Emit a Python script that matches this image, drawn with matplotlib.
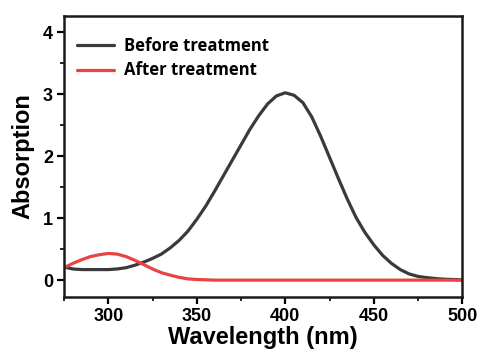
import matplotlib
matplotlib.use("Agg")
import matplotlib.pyplot as plt
from matplotlib.ticker import MultipleLocator

wavelength = list(range(275, 505, 5))
before = [0.21, 0.18, 0.17, 0.17, 0.17, 0.17, 0.18, 0.20, 0.24, 0.29,
          0.35, 0.42, 0.52, 0.64, 0.79, 0.98, 1.19, 1.43, 1.68, 1.93,
          2.18, 2.43, 2.65, 2.84, 2.97, 3.02, 2.98, 2.86, 2.63, 2.32,
          1.98, 1.64, 1.31, 1.01, 0.77, 0.57, 0.40, 0.27, 0.17, 0.10,
          0.06, 0.04, 0.025, 0.015, 0.01, 0.005]
after = [0.20, 0.27, 0.33, 0.38, 0.41, 0.43, 0.42, 0.38, 0.32, 0.25,
         0.18, 0.12, 0.08, 0.045, 0.02, 0.01, 0.005, 0.0, 0.0, 0.0,
         0.0, 0.0, 0.0, 0.0, 0.0, 0.0, 0.0, 0.0, 0.0, 0.0,
         0.0, 0.0, 0.0, 0.0, 0.0, 0.0, 0.0, 0.0, 0.0, 0.0,
         0.0, 0.0, 0.0, 0.0, 0.0, 0.0]
labels = ["Before treatment", "After treatment"]

plt.rcParams['font.family'] = ['Liberation Sans', 'DejaVu Sans']
fig = plt.figure(figsize=(4.78, 3.53), dpi=100)
ax = fig.add_axes([0.134, 0.159, 0.833, 0.796])

ax.plot(wavelength, before, color="#3a3a3a", lw=2.3, label=labels[0],
        solid_joinstyle="round", solid_capstyle="round")
ax.plot(wavelength, after, color="#e84444", lw=2.3, label=labels[1],
        solid_joinstyle="round", solid_capstyle="round")

ax.set_xlim(275, 500)
ax.set_ylim(-0.27, 4.26)
ax.xaxis.set_major_locator(MultipleLocator(50))
ax.xaxis.set_minor_locator(MultipleLocator(25))
ax.yaxis.set_major_locator(MultipleLocator(1))
ax.yaxis.set_minor_locator(MultipleLocator(0.5))
for s in ax.spines.values():
    s.set_linewidth(1.8)
    s.set_color("#1a1a1a")
ax.tick_params(which="major", direction="out", length=5, width=1.6, labelsize=13, pad=3)
ax.tick_params(which="minor", direction="out", length=3, width=1.2)
for t in ax.get_xticklabels() + ax.get_yticklabels():
    t.set_fontweight("bold")

ax.set_xlabel("Wavelength (nm)", fontsize=17, fontweight="bold", labelpad=1)
ax.set_ylabel("Absorption", fontsize=17, fontweight="bold", labelpad=6)

leg = ax.legend(loc="upper left", bbox_to_anchor=(-0.02, 1.0), frameon=False,
                handlelength=2.2, handletextpad=0.6,
                borderaxespad=0.85, labelspacing=0.4,
                prop={"family": "Open Sans", "weight": "bold", "size": 12})

fig.savefig("out.png", dpi=100)
